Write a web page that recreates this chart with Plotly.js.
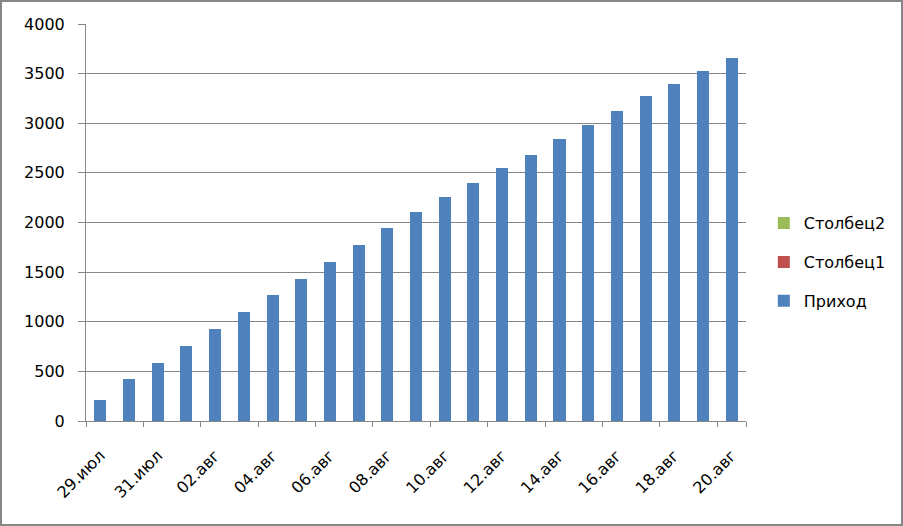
<!DOCTYPE html>
<html>
<head>
<meta charset="utf-8">
<script src="https://cdn.plot.ly/plotly-3.0.1.min.js"></script>
<style>
  html, body { margin: 0; padding: 0; background: #fff; }
  #wrap { position: relative; width: 903px; height: 526px; }
  #chart { width: 903px; height: 526px; }
  #frame { position: absolute; left: 0; top: 0; width: 903px; height: 526px; box-sizing: border-box;
           border: 2px solid #868686; pointer-events: none; }
</style>
</head>
<body>
<div id="wrap">
  <div id="chart"></div>
  <div id="frame"></div>
</div>
<script>
const dates = ["29.июл","30.июл","31.июл","01.авг","02.авг","03.авг","04.авг","05.авг","06.авг","07.авг","08.авг","09.авг","10.авг","11.авг","12.авг","13.авг","14.авг","15.авг","16.авг","17.авг","18.авг","19.авг","20.авг"];
const prihod = [215,425,585,755,925,1095,1265,1430,1600,1775,1940,2110,2255,2395,2545,2685,2840,2980,3120,3270,3400,3525,3655];
const stolbec1 = [0,0,0,0,0,0,0,0,0,0,0,0,0,0,0,0,0,0,0,0,0,0,0];
const stolbec2 = [0,0,0,0,0,0,0,0,0,0,0,0,0,0,0,0,0,0,0,0,0,0,0];
const seriesNames = ["Приход","Столбец1","Столбец2"];
const yTicks = [0,500,1000,1500,2000,2500,3000,3500,4000];

const font = {family: "'DejaVu Sans', sans-serif", size: 16, color: "#000"};
const grid = "#868686";

const traces = [
  {type: "bar", x: dates, y: prihod, name: seriesNames[0], legendgroup: "a", legendrank: 3, marker: {color: "#4F81BD"}},
  {type: "bar", x: dates, y: stolbec1, name: seriesNames[1], legendgroup: "b", legendrank: 2, marker: {color: "#C0504D"}},
  {type: "bar", x: dates, y: stolbec2, name: seriesNames[2], legendgroup: "c", legendrank: 1, marker: {color: "#9BBB59"}}
];

const layout = {
  width: 903, height: 526,
  margin: {l: 86, r: 157, t: 24, b: 105, pad: 0},
  paper_bgcolor: "#fff", plot_bgcolor: "#fff",
  font: font,
  barmode: "stack",
  bargap: 0.58,
  showlegend: true,
  legend: {x: 1.027, xanchor: "left", y: 0.4, yanchor: "middle",
           tracegroupgap: 15, font: font, bgcolor: "rgba(0,0,0,0)"},
  xaxis: {
    type: "category",
    tickmode: "array",
    tickvals: dates.filter((d, i) => i % 2 === 0),
    ticktext: dates.filter((d, i) => i % 2 === 0),
    tickson: "boundaries",
    ticks: "outside", ticklen: 5, tickcolor: grid, tickwidth: 1,
    tickangle: -45,
    ticklabelstandoff: 18,
    showline: true, linecolor: grid, linewidth: 1,
    showgrid: false, zeroline: false,
    tickfont: font,
    range: [-0.5, dates.length - 0.5]
  },
  yaxis: {
    range: [0, 4000],
    tickmode: "array", tickvals: yTicks, ticktext: yTicks.map(String),
    ticks: "outside", ticklen: 7, tickcolor: grid, tickwidth: 1,
    ticklabelstandoff: 10,
    showline: true, linecolor: grid, linewidth: 1,
    showgrid: true, gridcolor: grid, gridwidth: 1,
    zeroline: false,
    tickfont: font
  }
};

Plotly.newPlot("chart", traces, layout, {displayModeBar: false, staticPlot: true});
</script>
</body>
</html>
